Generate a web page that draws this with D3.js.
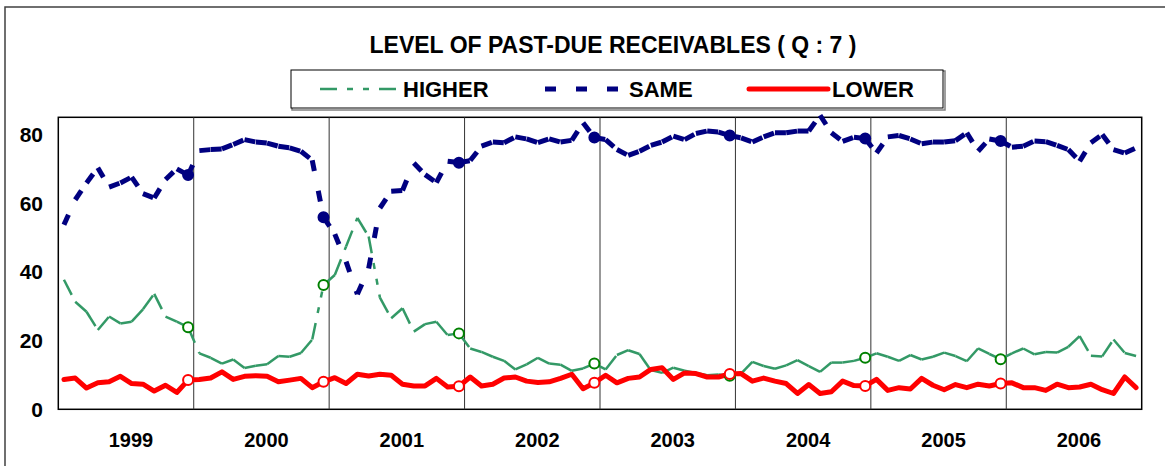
<!DOCTYPE html>
<html>
<head>
<meta charset="utf-8">
<script src="https://cdnjs.cloudflare.com/ajax/libs/d3/7.8.5/d3.min.js"></script>
<style>
body { margin: 0; background: #fff; }
text { font-family: Arial, "Liberation Sans", sans-serif; font-weight: bold; fill: #000; }
</style>
</head>
<body>
<div id="graphic"></div>
<script>
const years = ["1999", "2000", "2001", "2002", "2003", "2004", "2005", "2006"]
const monthKeys = years.flatMap(function (yr) {
    return ["01", "02", "03", "04", "05", "06", "07", "08", "09", "10", "11", "12"].map(function (m) { return yr + "-" + m })
})
const yTicks = [0, 20, 40, 60, 80]
const seriesNames = ["HIGHER", "SAME", "LOWER"]

// monthly % of respondents, Jan 1999 - Dec 2006
const higher = [
    37.7, 31.3, 28.4, 23.1, 27.0, 25.0, 25.5, 29.1, 33.6, 27.0, 25.5, 23.9,
    16.3, 15.0, 13.3, 14.5, 12.0, 12.7, 13.1, 15.5, 15.3, 16.4, 20.3, 36.2,
    39.1, 47.4, 55.7, 50.3, 32.5, 26.5, 29.4, 22.6, 24.8, 25.5, 21.6, 22.1,
    17.7, 16.7, 15.3, 14.1, 11.6, 13.1, 15.0, 13.3, 13.0, 11.2, 11.9, 13.3,
    11.6, 15.8, 17.2, 16.1, 11.4, 10.6, 12.1, 11.2, 10.6, 9.9, 10.1, 9.8,
    10.4, 13.8, 12.6, 11.8, 12.8, 14.3, 12.6, 10.9, 13.6, 13.6, 14.1, 15.0,
    16.3, 15.3, 14.1, 15.8, 14.5, 15.3, 16.5, 15.5, 14.0, 17.7, 16.1, 14.6,
    16.3, 17.7, 16.0, 16.7, 16.5, 18.2, 21.3, 15.6, 15.4, 20.3, 16.4, 15.5
]
const same = [
    53.7, 61.0, 65.9, 70.3, 64.7, 65.9, 67.6, 62.8, 61.5, 66.9, 70.0, 68.2,
    75.3, 75.6, 75.8, 77.1, 78.5, 77.8, 77.5, 76.6, 76.1, 75.1, 72.5, 55.9,
    51.0, 43.0, 33.5, 41.0, 58.6, 63.5, 63.7, 71.7, 68.3, 66.0, 72.2, 71.8,
    72.4, 76.6, 77.8, 77.6, 79.3, 78.7, 77.6, 78.7, 77.8, 78.3, 83.4, 79.1,
    78.5, 75.6, 73.9, 75.1, 76.8, 77.8, 79.5, 78.5, 80.3, 81.0, 80.7, 79.7,
    79.0, 77.8, 79.3, 80.5, 80.5, 81.0, 81.0, 85.6, 80.5, 78.0, 79.2, 78.8,
    74.6, 79.3, 79.7, 78.7, 77.3, 77.8, 77.8, 78.2, 80.5, 75.1, 78.7, 78.1,
    76.3, 76.6, 78.1, 77.9, 76.8, 75.6, 72.2, 77.6, 80.0, 75.6, 74.6, 76.1
]
const lower = [
    8.7, 9.1, 6.2, 7.7, 8.0, 9.6, 7.5, 7.3, 5.3, 7.0, 4.9, 8.5,
    8.7, 9.1, 10.9, 8.7, 9.6, 9.8, 9.6, 8.0, 8.5, 9.0, 6.3, 8.0,
    9.2, 7.5, 10.2, 9.7, 10.2, 9.9, 7.3, 6.8, 6.8, 9.0, 6.5, 6.7,
    9.4, 6.8, 7.3, 9.1, 9.4, 8.2, 7.8, 8.0, 9.0, 10.2, 6.0, 7.7,
    9.9, 7.7, 9.0, 9.4, 11.6, 12.1, 8.7, 10.6, 10.4, 9.4, 9.4, 10.3,
    10.4, 8.2, 9.1, 8.2, 7.5, 4.6, 7.2, 4.6, 5.1, 8.2, 6.9, 6.8,
    8.7, 5.5, 6.3, 5.9, 9.0, 7.0, 5.7, 7.2, 6.3, 7.3, 6.8, 7.5,
    7.7, 6.3, 6.3, 5.5, 7.3, 6.3, 6.5, 7.3, 5.7, 4.6, 9.4, 6.3
]
// December readings that carry a marker
const markedMonths = ["1999-12", "2000-12", "2001-12", "2002-12", "2003-12", "2004-12", "2005-12"]

const plot = { left: 58.3, right: 1141.7, top: 117.3, bottom: 409.3 }

let x = d3.scaleBand()
    .domain(monthKeys)
    .range([plot.left, plot.right])

let xYear = d3.scaleBand()
    .domain(years)
    .range([plot.left, plot.right])

let y = d3.scaleLinear()
    .domain([0, 85])
    .range([plot.bottom, plot.top])

function cx(i) {
    return x(monthKeys[i]) + x.bandwidth() / 2
}

let svg = d3.select("#graphic").append("svg")
    .attr("width", 1165)
    .attr("height", 466)

// outer chart frame (runs off the right and bottom of the picture)
svg.append("rect")
    .attr("x", 5).attr("y", 7)
    .attr("width", 1170).attr("height", 470)
    .attr("fill", "none")
    .attr("stroke", "#404040")
    .attr("stroke-width", 1.5)

svg.append("text")
    .attr("x", 613)
    .attr("y", 53)
    .attr("text-anchor", "middle")
    .style("font-size", "23px")
    .text("LEVEL OF PAST-DUE RECEIVABLES ( Q : 7 )")

// legend
let legend = svg.append("g")
legend.append("rect")
    .attr("x", 292).attr("y", 71)
    .attr("width", 653).attr("height", 39)
    .attr("fill", "none")
    .attr("stroke", "#808080")
    .attr("stroke-width", 1.5)
legend.append("rect")
    .attr("x", 291).attr("y", 70)
    .attr("width", 652).attr("height", 38)
    .attr("fill", "#fff")
    .attr("stroke", "#000")
    .attr("stroke-width", 1)

const legendX = [320, 545, 749]
const legendEnd = [397, 618, 828]
const legendText = [403, 629, 832]
const styles = [
    { color: "#339966", width: 2.5, dash: "17,10,6,10,6,10", cap: "butt" },
    { color: "#000080", width: 5, dash: "11,20", cap: "butt" },
    { color: "#ff0000", width: 5, dash: null, cap: "round" }
]

legend.selectAll(null)
    .data(seriesNames)
    .enter().append("line")
    .attr("x1", function (d, i) { return legendX[i] })
    .attr("x2", function (d, i) { return legendEnd[i] })
    .attr("y1", 89).attr("y2", 89)
    .attr("stroke", function (d, i) { return styles[i].color })
    .attr("stroke-width", function (d, i) { return styles[i].width })
    .attr("stroke-dasharray", function (d, i) { return styles[i].dash })
    .attr("stroke-linecap", function (d, i) { return styles[i].cap })

legend.selectAll(null)
    .data(seriesNames)
    .enter().append("text")
    .attr("x", function (d, i) { return legendText[i] })
    .attr("y", 97)
    .style("font-size", "22px")
    .text(function (d) { return d })

// plot frame
svg.append("rect")
    .attr("x", plot.left).attr("y", plot.top)
    .attr("width", plot.right - plot.left)
    .attr("height", plot.bottom - plot.top)
    .attr("fill", "#fff")
    .attr("stroke", "#000")
    .attr("stroke-width", 1.5)

// year separators
svg.selectAll(null)
    .data(years.slice(1))
    .enter().append("line")
    .attr("x1", function (d) { return xYear(d) })
    .attr("x2", function (d) { return xYear(d) })
    .attr("y1", plot.top)
    .attr("y2", plot.bottom)
    .attr("stroke", "#333")
    .attr("stroke-width", 1)

svg.selectAll(null)
    .data(yTicks)
    .enter().append("text")
    .attr("x", 43)
    .attr("y", function (d) { return y(d) })
    .attr("dy", "0.36em")
    .attr("text-anchor", "end")
    .style("font-size", "21px")
    .text(function (d) { return d })

svg.selectAll(null)
    .data(years)
    .enter().append("text")
    .attr("x", function (d) { return xYear(d) + xYear.bandwidth() / 2 + 5 })
    .attr("y", 447)
    .attr("text-anchor", "middle")
    .style("font-size", "20px")
    .text(function (d) { return d })

// Excel restarts the dash pattern at every data point, so each step is its own line
const allSeries = [higher, same, lower]
allSeries.forEach(function (values, s) {
    let pts = values.map(function (v, i) { return [cx(i), y(v)] })
    let st = styles[s]
    if (st.dash) {
        svg.append("g").selectAll(null)
            .data(d3.pairs(pts))
            .enter().append("line")
            .attr("x1", function (d) { return d[0][0] })
            .attr("y1", function (d) { return d[0][1] })
            .attr("x2", function (d) { return d[1][0] })
            .attr("y2", function (d) { return d[1][1] })
            .attr("stroke", st.color)
            .attr("stroke-width", st.width)
            .attr("stroke-dasharray", st.dash)
    } else {
        svg.append("path")
            .attr("d", d3.line()(pts))
            .attr("fill", "none")
            .attr("stroke", st.color)
            .attr("stroke-width", st.width)
            .attr("stroke-linejoin", "round")
            .attr("stroke-linecap", "round")
    }
})

const markerStyle = [
    { fill: "#fff", stroke: "#008000" },
    { fill: "#000080", stroke: "#000080" },
    { fill: "#fff", stroke: "#ff0000" }
]
allSeries.forEach(function (values, s) {
    svg.selectAll(null)
        .data(markedMonths)
        .enter().append("circle")
        .attr("cx", function (d) { return x(d) + x.bandwidth() / 2 })
        .attr("cy", function (d) { return y(values[monthKeys.indexOf(d)]) })
        .attr("r", 5)
        .attr("fill", markerStyle[s].fill)
        .attr("stroke", markerStyle[s].stroke)
        .attr("stroke-width", 2)
})
</script>
</body>
</html>
